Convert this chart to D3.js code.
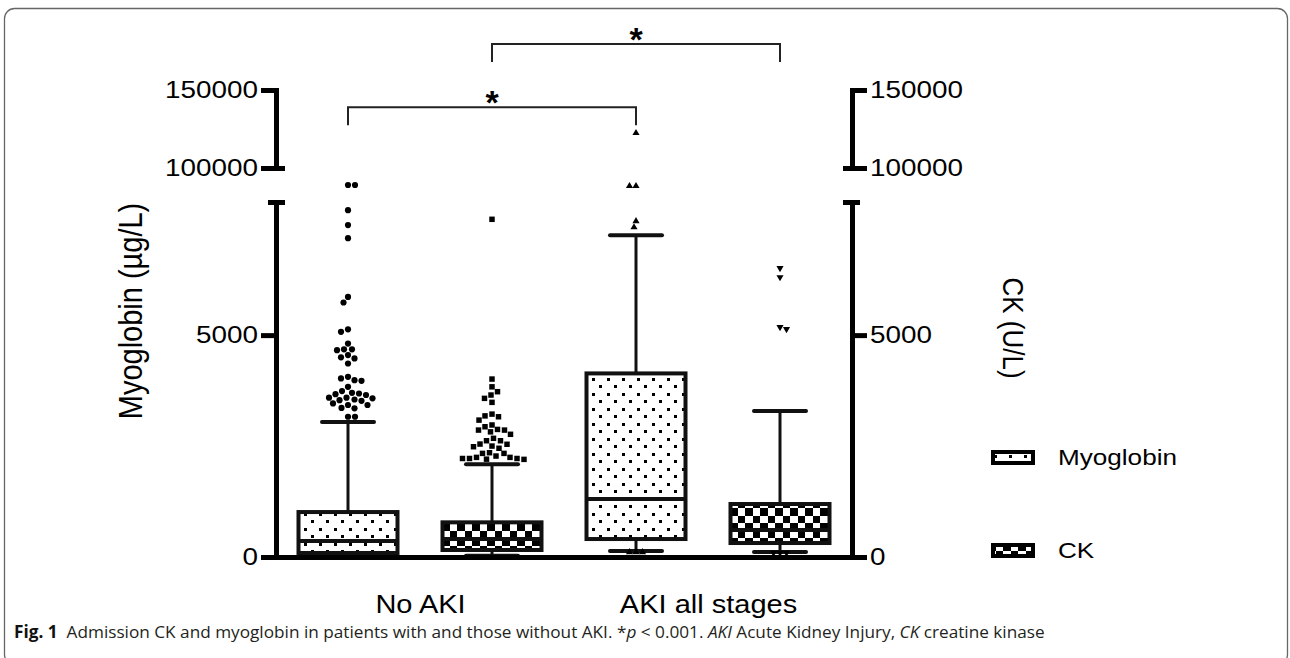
<!DOCTYPE html>
<html>
<head>
<meta charset="utf-8">
<script src="https://cdn.jsdelivr.net/npm/d3@7"></script>
<style>
  html, body { margin: 0; padding: 0; background: #fff; }
  svg { display: block; }
  text { font-family: "Liberation Sans", Arial, sans-serif; fill: #000; }
  .caption { font-family: "Open Sans", sans-serif; font-size: 17.2px; fill: #231f20; }
</style>
</head>
<body>
<div id="chart"></div>
<script>
// groups on the x axis and the two measured series
const groups = ["No AKI", "AKI all stages"];
const seriesNames = ["Myoglobin", "CK"];

// one box per group x series, in drawing order
const boxGroup = ["No AKI", "No AKI", "AKI all stages", "AKI all stages"];
const boxSeries = ["Myoglobin", "CK", "Myoglobin", "CK"];

// box statistics
const whiskerLow = [20, 30, 135, 113];
const quartile1 = [90, 158, 405, 315];
const median = [360, 405, 1306, 608];
const quartile3 = [1013, 781, 4137, 1194];
const whiskerHigh = [3040, 2088, 7252, 3288];

// points beyond the whiskers
const outliersMyoNoAKI = [54000, 54000, 7815, 7480, 7185, 5860, 5735, 5130, 5075, 4810, 4680, 4680, 4660, 4550,
  4500, 4475, 4360, 4060, 4025, 3985, 3970, 3835, 3740, 3700, 3685, 3670, 3650, 3590, 3590, 3575, 3550, 3535,
  3520, 3460, 3425, 3425, 3360, 3350, 3160, 3160];
const outliersCkNoAKI = [7610, 4010, 3835, 3725, 3650, 3575, 3485, 3220, 3180, 3160, 3085, 2975, 2935, 2875,
  2860, 2860, 2820, 2765, 2675, 2620, 2620, 2545, 2540, 2500, 2485, 2450, 2350, 2335, 2335, 2275, 2245, 2245,
  2220, 2220, 2220, 2205, 2200];
const outliersMyoAKI = [122400, 51300, 51300, 7570, 7430, 110, 110, 110];
const outliersCkAKI = [6510, 6305, 5180, 5135, 95, 95, 95];
const outliers = [outliersMyoNoAKI, outliersCkNoAKI, outliersMyoAKI, outliersCkAKI];

// broken y axis
const lowTicks = [0, 5000];
const highTicks = [100000, 150000];
const axisBreak = [8000, 100000];
const axisTop = 150000;

// significance brackets: from box, to box, level
const sigFrom = [0, 1];
const sigTo = [2, 3];
const sigLevel = [139000, 179500];
const sigLabel = ["*", "*"];

const width = 1290, height = 658;
const plotLeft = 276, plotRight = 852;
const yBottom = 557, yBreakLow = 202, yBreakHigh = 168, yTop = 90;
const boxW = 99, capW = 52;
const stretchK = 1.16;

const svg = d3.select("#chart").append("svg")
  .attr("width", width)
  .attr("height", height);

// fill patterns
const defs = svg.append("defs");
const dots = defs.append("pattern").attr("id", "dots")
  .attr("patternUnits", "userSpaceOnUse").attr("width", 15).attr("height", 15)
  .attr("x", 300).attr("y", 2);
dots.append("rect").attr("width", 15).attr("height", 15).attr("fill", "#fff");
dots.append("rect").attr("x", 1).attr("y", 1).attr("width", 3).attr("height", 3).attr("fill", "#000");
dots.append("rect").attr("x", 8).attr("y", 8).attr("width", 3).attr("height", 3).attr("fill", "#000");

const checks = defs.append("pattern").attr("id", "checks")
  .attr("patternUnits", "userSpaceOnUse").attr("width", 15).attr("height", 15)
  .attr("x", 445).attr("y", 523);
checks.append("rect").attr("width", 15).attr("height", 15).attr("fill", "#fff");
checks.append("rect").attr("x", 0).attr("y", 0).attr("width", 8).attr("height", 8).attr("fill", "#000");
checks.append("rect").attr("x", 8).attr("y", 8).attr("width", 7).attr("height", 7).attr("fill", "#000");

const fillFor = s => s === "Myoglobin" ? "url(#dots)" : "url(#checks)";

// frame
svg.append("rect")
  .attr("x", 4.5).attr("y", 8.5)
  .attr("width", 1283).attr("height", 656)
  .attr("rx", 10)
  .attr("fill", "none")
  .attr("stroke", "#666")
  .attr("stroke-width", 1.3);

// scales
const boxKeys = boxGroup.map((g, i) => g + "|" + boxSeries[i]);
const x = d3.scalePoint().domain(boxKeys).range([plotLeft, plotRight]).padding(0.5);
const xGroup = d3.scalePoint().domain(groups).range([plotLeft, plotRight]).padding(0.5);

const y = d3.scaleLinear()
  .domain([0, axisBreak[0], axisBreak[1], axisTop])
  .range([yBottom, yBreakLow, yBreakHigh, yTop]);
const yLow = d3.scaleLinear().domain([0, axisBreak[0]]).range([yBottom, yBreakLow]);
const yHigh = d3.scaleLinear().domain([axisBreak[1], axisTop]).range([yBreakHigh, yTop]);

const stretch = (sel, k = stretchK) => sel.each(function () {
  const w = this.getComputedTextLength();
  d3.select(this).attr("textLength", w * k).attr("lengthAdjust", "spacingAndGlyphs");
});

const boxes = boxKeys.map((k, i) => ({
  key: k, series: boxSeries[i],
  lo: whiskerLow[i], q1: quartile1[i], med: median[i], q3: quartile3[i], hi: whiskerHigh[i],
  out: outliers[i], idx: i
}));

// boxes and whiskers
const boxG = svg.append("g").selectAll("g")
  .data(boxes)
  .join("g")
  .attr("transform", d => `translate(${x(d.key)},0)`);

boxG.append("line")
  .attr("y1", d => y(d.hi)).attr("y2", d => y(d.q3))
  .attr("stroke", "#111").attr("stroke-width", 3);
boxG.append("line")
  .attr("y1", d => y(d.q1)).attr("y2", d => y(d.lo))
  .attr("stroke", "#111").attr("stroke-width", 3);
boxG.append("line")
  .attr("x1", -capW / 2).attr("x2", capW / 2)
  .attr("y1", d => y(d.hi)).attr("y2", d => y(d.hi))
  .attr("stroke", "#111").attr("stroke-width", 4).attr("stroke-linecap", "round");
boxG.append("line")
  .attr("x1", -capW / 2).attr("x2", capW / 2)
  .attr("y1", d => y(d.lo)).attr("y2", d => y(d.lo))
  .attr("stroke", "#111").attr("stroke-width", 4).attr("stroke-linecap", "round");
boxG.append("rect")
  .attr("x", -boxW / 2).attr("width", boxW)
  .attr("y", d => y(d.q3)).attr("height", d => y(d.q1) - y(d.q3))
  .attr("fill", d => fillFor(d.series))
  .attr("stroke", "#111").attr("stroke-width", 4);
boxG.append("line")
  .attr("x1", -boxW / 2).attr("x2", boxW / 2)
  .attr("y1", d => y(d.med)).attr("y2", d => y(d.med))
  .attr("stroke", "#111").attr("stroke-width", 4);

// outliers laid out as a simple swarm
const swarm = (values, diam) => {
  const placed = [];
  values.slice().sort((a, b) => b - a).forEach((v, n) => {
    const py = y(v);
    let dx = 0;
    for (let s = 0; s < 80; s += 0.5) {
      const cands = s === 0 ? [0] : (n % 2 ? [s, -s] : [-s, s]);
      const hit = cands.find(c => placed.every(p => (p.dx - c) ** 2 + (p.y - py) ** 2 >= diam * diam));
      if (hit !== undefined) { dx = hit; break; }
    }
    placed.push({ v, dx, y: py });
  });
  return placed;
};

const symbolType = [d3.symbolCircle, d3.symbolSquare, d3.symbolTriangle, d3.symbolTriangle];
const symbolSize = [30, 30, 22, 22];
const symbolRot = [0, 0, 0, 180];
const swarmGap = [7, 7, 6.5, 6.5];

boxG.each(function (d) {
  const pts = swarm(d.out, swarmGap[d.idx]);
  d3.select(this).selectAll("path.pt")
    .data(pts)
    .join("path")
    .attr("class", "pt")
    .attr("d", d3.symbol().type(symbolType[d.idx]).size(symbolSize[d.idx]))
    .attr("transform", p => `translate(${p.dx},${p.y}) rotate(${symbolRot[d.idx]})`)
    .attr("fill", "#000");
});

// axes
const styleAxis = g => {
  g.select(".domain").attr("stroke", "#000").attr("stroke-width", 5).attr("stroke-linecap", "square");
  g.selectAll(".tick line").attr("stroke", "#000").attr("stroke-width", 5);
  g.selectAll(".tick text").attr("font-size", 24).attr("fill", "#000").call(stretch);
};

svg.append("g").attr("transform", `translate(${plotLeft},0)`)
  .call(d3.axisLeft(yLow).tickValues(lowTicks).tickSize(15).tickSizeOuter(0).tickPadding(3).tickFormat(d3.format("d")))
  .call(styleAxis);
svg.append("g").attr("transform", `translate(${plotLeft},0)`)
  .call(d3.axisLeft(yHigh).tickValues(highTicks).tickSize(15).tickSizeOuter(0).tickPadding(3).tickFormat(d3.format("d")))
  .call(styleAxis);
svg.append("g").attr("transform", `translate(${plotRight},0)`)
  .call(d3.axisRight(yLow).tickValues(lowTicks).tickSize(15).tickSizeOuter(0).tickPadding(3).tickFormat(d3.format("d")))
  .call(styleAxis);
svg.append("g").attr("transform", `translate(${plotRight},0)`)
  .call(d3.axisRight(yHigh).tickValues(highTicks).tickSize(15).tickSizeOuter(0).tickPadding(3).tickFormat(d3.format("d")))
  .call(styleAxis);

// caps at the axis break
[[plotLeft - 8, plotLeft + 9], [plotRight - 9, plotRight + 8]].forEach(([a, b]) => {
  svg.append("line").attr("x1", a).attr("x2", b)
    .attr("y1", yLow(axisBreak[0]) + 0.5).attr("y2", yLow(axisBreak[0]) + 0.5)
    .attr("stroke", "#000").attr("stroke-width", 5);
});
svg.append("line").attr("x1", plotLeft).attr("x2", plotLeft + 9)
  .attr("y1", yHigh(axisBreak[1]) + 0.5).attr("y2", yHigh(axisBreak[1]) + 0.5)
  .attr("stroke", "#000").attr("stroke-width", 5);
svg.append("line").attr("x1", plotRight - 9).attr("x2", plotRight)
  .attr("y1", yHigh(axisBreak[1]) + 0.5).attr("y2", yHigh(axisBreak[1]) + 0.5)
  .attr("stroke", "#000").attr("stroke-width", 5);

// x axis with group labels
const xAxisG = svg.append("g").attr("transform", `translate(0,${yBottom})`)
  .call(d3.axisBottom(xGroup).tickSize(0).tickSizeOuter(0).tickPadding(38));
xAxisG.select(".domain").attr("stroke", "#000").attr("stroke-width", 5).attr("stroke-linecap", "square");
xAxisG.selectAll(".tick text").attr("font-size", 25).attr("fill", "#000").call(stretch);

// axis titles
svg.append("text")
  .attr("transform", `translate(142,311) scale(1.12,1) rotate(-90)`)
  .attr("text-anchor", "middle")
  .attr("font-size", 29)
  .text("Myoglobin (µg/L)");
svg.append("text")
  .attr("transform", `translate(1003,328) scale(${stretchK},1) rotate(90)`)
  .attr("text-anchor", "middle")
  .attr("font-size", 26)
  .text("CK (U/L)");

// significance brackets
sigFrom.forEach((f, i) => {
  const x1 = x(boxKeys[f]), x2 = x(boxKeys[sigTo[i]]), yy = yHigh(sigLevel[i]);
  svg.append("path")
    .attr("d", `M${x1},${yy + 18}V${yy}H${x2}V${yy + 18}`)
    .attr("fill", "none").attr("stroke", "#222").attr("stroke-width", 2);
  svg.append("text")
    .attr("x", (x1 + x2) / 2).attr("y", yy + 7)
    .attr("text-anchor", "middle")
    .attr("font-size", 34)
    .attr("font-weight", "bold")
    .text(sigLabel[i]);
});

// legend
const legend = svg.append("g").selectAll("g")
  .data(seriesNames)
  .join("g")
  .attr("transform", (d, i) => `translate(993,${452 + i * 93})`);
legend.append("rect")
  .attr("width", 40).attr("height", 11)
  .attr("fill", d => fillFor(d))
  .attr("stroke", "#000").attr("stroke-width", 4);
legend.append("text")
  .attr("x", 65).attr("y", 13)
  .attr("font-size", 22.5)
  .text(d => d)
  .call(stretch);

// caption
const cap = svg.append("text").attr("class", "caption").attr("x", 14).attr("y", 638);
cap.append("tspan").attr("font-weight", "bold").attr("fill", "#111").text("Fig. 1");
cap.append("tspan").attr("dx", 9).text("Admission CK and myoglobin in patients with and those without AKI. *");
cap.append("tspan").attr("font-style", "italic").text("p");
cap.append("tspan").text(" < 0.001. ");
cap.append("tspan").attr("font-style", "italic").text("AKI");
cap.append("tspan").text(" Acute Kidney Injury, ");
cap.append("tspan").attr("font-style", "italic").text("CK");
cap.append("tspan").text(" creatine kinase");
</script>
</body>
</html>
